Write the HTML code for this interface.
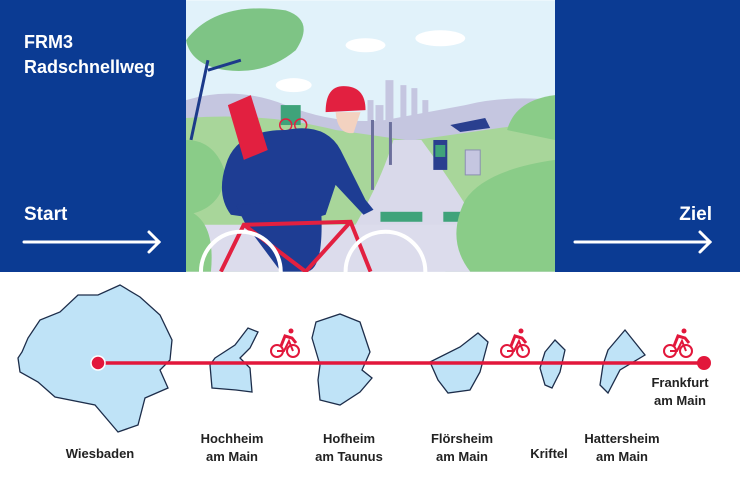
<!DOCTYPE html>
<html><head><meta charset="utf-8"><style>
html,body{margin:0;padding:0;background:#fff}
svg{display:block}
text{font-family:"Liberation Sans",sans-serif;font-weight:bold}
</style></head><body>
<svg width="740" height="493" viewBox="0 0 740 493" xmlns="http://www.w3.org/2000/svg">
<rect width="740" height="493" fill="#fff"/>
<rect x="0" y="0" width="186" height="272" fill="#0b3b93"/>
<rect x="555" y="0" width="185" height="272" fill="#0b3b93"/>
<text x="24" y="48" fill="#fff" font-size="18">FRM3</text>
<text x="24" y="73" fill="#fff" font-size="18">Radschnellweg</text>
<text x="24" y="220" fill="#fff" font-size="19">Start</text>
<text x="712" y="220" fill="#fff" font-size="19" text-anchor="end">Ziel</text>
<g stroke="#fff" stroke-width="3" fill="none" stroke-linecap="round">
<line x1="24" y1="242" x2="159" y2="242"/><polyline points="149,232 159,242 149,252"/>
<line x1="575" y1="242" x2="710" y2="242"/><polyline points="700,232 710,242 700,252"/>
</g>
<svg x="186" y="0" width="369" height="272" viewBox="0 0 370 272">
<rect width="370" height="272" fill="#e1f2fa"/>
<ellipse cx="255" cy="38" rx="25" ry="8" fill="#fff"/><ellipse cx="180" cy="45" rx="20" ry="7" fill="#fff"/><ellipse cx="108" cy="85" rx="18" ry="7" fill="#fff"/>
<path d="M0 100 Q50 85 100 105 Q150 125 200 120 L280 105 Q320 95 370 100 L370 272 L0 272Z" fill="#c5c6e0"/>
<g fill="#c5c6e0"><rect x="200" y="80" width="8" height="40"/><rect x="215" y="85" width="6" height="40"/><rect x="226" y="88" width="6" height="35"/><rect x="237" y="100" width="6" height="25"/><rect x="190" y="105" width="8" height="20"/><rect x="182" y="100" width="6" height="25"/></g>
<path d="M0 118 Q80 112 150 130 L220 140 L180 272 L0 272Z" fill="#a8d69a"/>
<path d="M230 140 Q300 130 370 120 L370 272 L260 272Z" fill="#a8d69a"/>
<path d="M208 140 L236 140 Q280 200 320 272 L140 272 Q190 200 208 140Z" fill="#d9d9ea"/>
<path d="M0 225 L370 225 L370 272 L0 272Z" fill="#dcdcec"/>
<rect x="195" y="212" width="42" height="10" fill="#3fa37a"/><rect x="258" y="212" width="42" height="10" fill="#3fa37a"/>
<path d="M0 40 Q30 0 100 10 Q130 20 110 50 Q80 75 40 70 Q5 65 0 40Z" fill="#7ec485"/>
<path d="M22 60 L5 140 M22 70 L55 60" stroke="#1c3a8a" stroke-width="3" fill="none"/>
<path d="M0 140 Q30 140 40 175 Q35 210 0 215Z" fill="#8acc88"/>
<path d="M0 210 Q30 220 25 272 L0 272Z" fill="#8acc88"/>
<path d="M370 95 Q330 100 322 130 L370 140Z" fill="#8acc88"/>
<path d="M370 160 Q300 170 280 200 Q260 240 285 272 L370 272Z" fill="#8acc88"/>
<line x1="187" y1="120" x2="187" y2="190" stroke="#6b6f9c" stroke-width="3"/>
<line x1="205" y1="122" x2="205" y2="165" stroke="#6b6f9c" stroke-width="3"/>
<rect x="95" y="105" width="20" height="20" fill="#3fa37a"/><circle cx="100" cy="125" r="6" fill="none" stroke="#e22040" stroke-width="1.5"/><circle cx="115" cy="125" r="6" fill="none" stroke="#e22040" stroke-width="1.5"/>
<path d="M265 125 L300 118 L305 128 L275 132Z" fill="#2a3f8f"/>
<rect x="248" y="140" width="14" height="30" fill="#2a3f8f"/><rect x="250" y="145" width="10" height="12" fill="#3fa37a"/>
<rect x="280" y="150" width="15" height="25" fill="#c5c6e0" stroke="#8a8fb0"/>
<!-- cyclist -->
<path d="M40 165 Q50 130 100 130 Q140 122 155 150 L180 200 L188 210 L178 215 L150 185 L140 215 Q110 225 45 215 Q30 195 40 165Z" fill="#1e3d93"/>
<path d="M50 205 L135 200 Q140 272 120 272 L95 272 L60 225Z" fill="#1e3d93"/>
<path d="M42 105 L65 95 L82 150 L58 160Z" fill="#e22040"/>
<path d="M140 112 Q140 86 158 86 Q180 86 180 110Z" fill="#e22040"/>
<path d="M150 112 Q152 135 168 133 L175 112Z" fill="#f3d2c0"/>
<g stroke="#e22040" stroke-width="4" fill="none"><path d="M35 272 L58 225 L165 222 L185 272 M58 225 L120 272 L165 222"/></g>
<circle cx="55" cy="272" r="40" fill="none" stroke="#fff" stroke-width="4"/>
<circle cx="200" cy="272" r="40" fill="none" stroke="#fff" stroke-width="4"/>
</svg>
<g fill="#bfe3f7" stroke="#1d2d4a" stroke-width="1.3">
<path d="M22 352 L28 338 L40 320 L60 312 L78 295 L98 295 L120 285 L140 297 L160 315 L172 340 L170 360 L160 370 L168 388 L145 398 L138 425 L118 432 L95 405 L55 397 L38 382 L20 372 L18 358Z"/>
<path d="M215 358 L235 345 L248 328 L258 332 L250 348 L240 358 L250 368 L252 392 L236 390 L212 388 L210 365Z"/>
<path d="M312 338 L316 322 L340 314 L360 322 L370 352 L362 370 L372 378 L360 392 L340 405 L320 400 L318 380 L320 365Z"/>
<path d="M430 362 L460 347 L478 333 L488 342 L480 372 L470 390 L448 393 L438 380Z"/>
<path d="M545 352 L555 340 L565 350 L560 372 L552 388 L545 385 L540 368Z"/>
<path d="M608 350 L625 330 L633 340 L645 355 L620 370 L608 393 L600 385 L603 365Z"/>
</g>
<line x1="98" y1="363" x2="704" y2="363" stroke="#e2173b" stroke-width="3.5"/>
<circle cx="98" cy="363" r="7" fill="#e2173b" stroke="#fff" stroke-width="1.5"/>
<circle cx="704" cy="363" r="7" fill="#e2173b"/>
<g id="bk" fill="none" stroke="#e2173b" stroke-width="2">
<circle cx="277" cy="351" r="6"/><circle cx="293" cy="351" r="6"/>
<path d="M277 351 L284 351 L289 341 L293 351" />
<circle cx="291" cy="331" r="2.5" fill="#e2173b" stroke="none"/>
<path d="M281 346 L285 336 L292 338 L296 343" stroke-width="3"/>
</g>
<use href="#bk" x="230"/>
<use href="#bk" x="393"/>
<g font-size="13" fill="#222" text-anchor="middle">
<text x="100" y="458">Wiesbaden</text>
<text x="232" y="443">Hochheim</text><text x="232" y="461">am Main</text>
<text x="349" y="443">Hofheim</text><text x="349" y="461">am Taunus</text>
<text x="462" y="443">Flörsheim</text><text x="462" y="461">am Main</text>
<text x="549" y="458">Kriftel</text>
<text x="622" y="443">Hattersheim</text><text x="622" y="461">am Main</text>
<text x="680" y="387">Frankfurt</text><text x="680" y="405">am Main</text>
</g>
</svg>
</body></html>
